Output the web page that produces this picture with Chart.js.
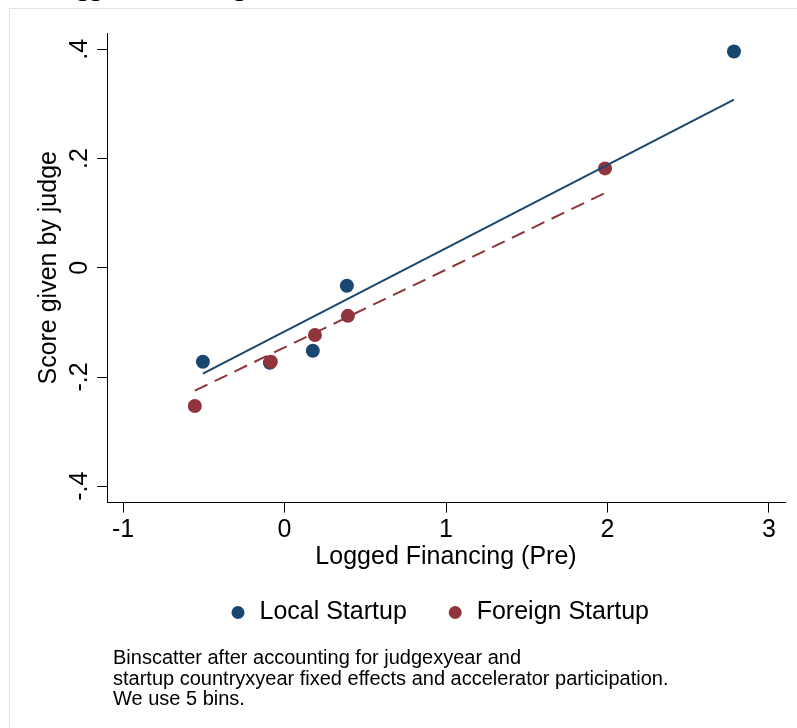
<!DOCTYPE html>
<html>
<head>
<meta charset="utf-8">
<script src="https://cdn.jsdelivr.net/npm/chart.js@4.4.1/dist/chart.umd.min.js"></script>
<style>
  html, body { margin: 0; padding: 0; background: #fff; overflow: hidden; }
  #wrap { position: relative; width: 797px; height: 728px; overflow: hidden; background: #fff; }
  #frame { position: absolute; left: 9px; top: 8px; width: 900px; height: 900px;
           border: 1px solid #dde8e8; box-sizing: border-box; }
  #heading { position: absolute; right: 551px; top: -25px; white-space: nowrap;
             font: bold 26px/26px "Liberation Serif", "Times New Roman", serif; color: #000; }
  #c { position: absolute; left: 0; top: 0; }
  #note { position: absolute; left: 113px; top: 647px; white-space: nowrap;
          font: 20px/20.5px "Liberation Sans", Arial, Helvetica, sans-serif; color: #000; }
</style>
</head>
<body>
<div id="wrap">
  <div id="frame"></div>
  <div id="heading">Logged Financing</div>
  <canvas id="c" width="797" height="728"></canvas>
  <div id="note">Binscatter after accounting for judgexyear and<br>startup countryxyear fixed effects and accelerator participation.<br>We use 5 bins.</div>
</div>
<script>
// Binned means (5 bins per group)
const localX   = [-0.506, -0.091, 0.175, 0.386, 2.784];
const localY   = [-0.172, -0.174, -0.152, -0.033, 0.396];
const foreignX = [-0.556, -0.085, 0.188, 0.392, 1.985];
const foreignY = [-0.253, -0.172, -0.123, -0.088, 0.182];

// Linear fit end points for each group
const localFitX   = [-0.506, 2.784];
const localFitY   = [-0.194, 0.308];
const foreignFitX = [-0.556, 1.985];
const foreignFitY = [-0.225, 0.137];

const seriesNames = ['Local Startup', 'Foreign Startup'];

const xTickValues = [-1, 0, 1, 2, 3];
const xTickLabels = ['-1', '0', '1', '2', '3'];
const yTickValues = [-0.4, -0.2, 0, 0.2, 0.4];
const yTickLabels = ['-.4', '-.2', '0', '.2', '.4'];

const NAVY = '#1a476f';
const MAROON = '#90353b';
const FONT = '"Liberation Sans", Arial, Helvetica, sans-serif';

Chart.defaults.font.family = FONT;
Chart.defaults.color = '#000';

const pts = (xs, ys) => xs.map((x, i) => ({ x: x, y: ys[i] }));

// shift the legend row slightly left of the plot-centred position
const legendShift = {
  id: 'legendShift',
  afterLayout(chart) {
    const lg = chart.legend;
    if (lg) { lg.left -= 7; lg.right -= 7; }
  }
};

new Chart(document.getElementById('c'), {
  type: 'scatter',
  data: {
    datasets: [
      { label: seriesNames[0], data: pts(localX, localY), backgroundColor: NAVY,
        borderWidth: 0, pointRadius: 7, pointHoverRadius: 7, order: 4 },
      { label: seriesNames[1], data: pts(foreignX, foreignY), backgroundColor: MAROON,
        borderWidth: 0, pointRadius: 7, pointHoverRadius: 7, order: 3 },
      { type: 'line', label: 'Local fit', data: pts(localFitX, localFitY),
        borderColor: NAVY, borderWidth: 2, pointRadius: 0, fill: false, order: 2 },
      { type: 'line', label: 'Foreign fit', data: pts(foreignFitX, foreignFitY),
        borderColor: MAROON, borderWidth: 2, borderDash: [14, 8], pointRadius: 0, fill: false, order: 1 }
    ]
  },
  options: {
    responsive: false,
    animation: false,
    events: [],
    layout: { padding: { left: 0, top: 33, right: 12, bottom: 93 } },
    plugins: {
      tooltip: { enabled: false },
      title: { display: false },
      legend: {
        position: 'bottom',
        fullSize: false,
        labels: {
          usePointStyle: true,
          pointStyle: 'circle',
          boxWidth: 18,
          boxHeight: 9.2,
          padding: 39.4,
          color: '#000',
          font: { size: 25, family: FONT },
          filter: item => item.datasetIndex < 2,
          sort: (a, b) => a.datasetIndex - b.datasetIndex
        }
      }
    },
    scales: {
      x: {
        type: 'linear',
        min: -1.1,
        max: 3.1,
        afterBuildTicks: s => { s.ticks = xTickValues.map(v => ({ value: v })); },
        afterFit: s => { s.height = 58; },
        ticks: {
          autoSkip: false, maxRotation: 0, padding: 3, color: '#000',
          font: { size: 25, family: FONT },
          callback: (v, i) => xTickLabels[i]
        },
        grid: { drawOnChartArea: false, drawTicks: true, tickLength: 10, color: '#000', lineWidth: 1 },
        border: { display: true, color: '#000', width: 1 },
        title: {
          display: true, text: 'Logged Financing (Pre)', color: '#000',
          font: { size: 25, family: FONT }, padding: { top: 0, bottom: -12 }
        }
      },
      y: {
        type: 'linear',
        min: -0.43,
        max: 0.43,
        afterBuildTicks: s => { s.ticks = yTickValues.map(v => ({ value: v })); },
        afterFit: s => { s.width = 107; },
        ticks: {
          autoSkip: false, minRotation: 90, maxRotation: 90, crossAlign: 'center',
          padding: 2, color: '#000', font: { size: 25, family: FONT },
          callback: (v, i) => yTickLabels[i]
        },
        grid: { drawOnChartArea: false, drawTicks: true, tickLength: 10, color: '#000', lineWidth: 1 },
        border: { display: true, color: '#000', width: 1 },
        title: {
          display: true, text: 'Score given by judge', color: '#000',
          font: { size: 25, family: FONT }, padding: { top: 34, bottom: 0 }
        }
      }
    }
  },
  plugins: [legendShift]
});
</script>
</body>
</html>
